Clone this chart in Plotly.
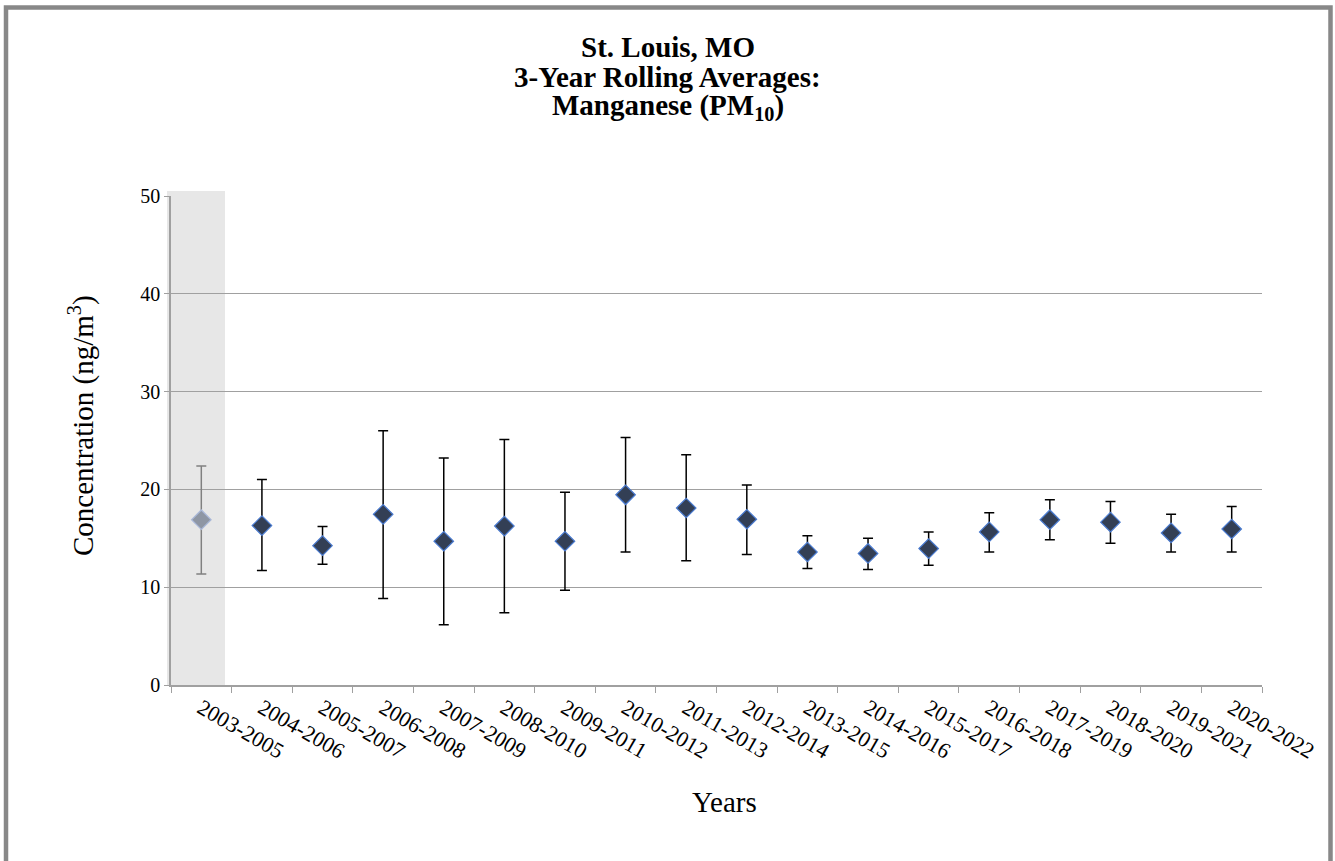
import plotly.graph_objects as go

categories = ["2003-2005", "2004-2006", "2005-2007", "2006-2008", "2007-2009", "2008-2010",
              "2009-2011", "2010-2012", "2011-2013", "2012-2014", "2013-2015", "2014-2016",
              "2015-2017", "2016-2018", "2017-2019", "2018-2020", "2019-2021", "2020-2022"]
means = [16.9, 16.3, 14.25, 17.45, 14.7, 16.25, 14.7, 19.45, 18.1, 16.95,
         13.6, 13.45, 13.95, 15.65, 16.9, 16.65, 15.55, 15.95]
upper = [22.4, 21.0, 16.2, 26.0, 23.2, 25.1, 19.7, 25.3, 23.55, 20.45,
         15.25, 15.0, 15.65, 17.6, 18.95, 18.75, 17.45, 18.25]
lower = [11.35, 11.7, 12.35, 8.85, 6.15, 7.4, 9.7, 13.6, 12.7, 13.35,
         11.9, 11.8, 12.25, 13.6, 14.85, 14.5, 13.6, 13.6]
title_lines = ["<b>St. Louis, MO</b>", "<b>3-Year Rolling Averages:</b>",
               "<b>Manganese (PM<sub>10</sub>)</b>"]

err_plus = [u - m for u, m in zip(upper, means)]
err_minus = [m - l for m, l in zip(means, lower)]

W, H = 1335, 861
ML, MR, MT, MB = 171, 73, 196, 176
PW, PH = W - ML - MR, H - MT - MB

FONT = "Liberation Serif, Times New Roman, serif"


def px_x(p):
    return (p - ML) / PW


def px_y(p):
    return (H - MB - p) / PH


fig = go.Figure()

# first (shaded) period
fig.add_trace(go.Scatter(
    x=categories[:1], y=means[:1], mode="markers",
    marker=dict(symbol="diamond", size=15, color="#8E96A4",
                line=dict(color="#A9B8D8", width=1.2)),
    error_y=dict(type="data", array=err_plus[:1], arrayminus=err_minus[:1],
                 color="#808080", thickness=1.5, width=5),
    showlegend=False))

fig.add_trace(go.Scatter(
    x=categories[1:], y=means[1:], mode="markers",
    marker=dict(symbol="diamond", size=15, color="#333F55",
                line=dict(color="#4A7BD0", width=1.2)),
    error_y=dict(type="data", array=err_plus[1:], arrayminus=err_minus[1:],
                 color="#000000", thickness=1.5, width=5),
    showlegend=False))

# shaded first-period band
fig.add_shape(type="rect", xref="paper", yref="paper",
              x0=px_x(167), x1=px_x(225), y0=0, y1=px_y(191),
              fillcolor="#E7E7E7", line=dict(width=0), layer="below")

# outer chart border
fig.add_shape(type="rect", xref="paper", yref="paper",
              x0=px_x(6), x1=px_x(1330.5), y0=px_y(7.5), y1=px_y(900),
              line=dict(color="#888888", width=4.5), fillcolor="rgba(0,0,0,0)")

annotations = []
for txt, yc in zip(title_lines, [47, 77, 107]):
    annotations.append(dict(text=txt, xref="paper", yref="paper",
                            x=px_x(667.5), y=px_y(yc), showarrow=False,
                            xanchor="center", yanchor="middle",
                            font=dict(family=FONT, size=29, color="black")))
annotations.append(dict(text="Concentration (ng/m<sup>3</sup>)", xref="paper", yref="paper",
                        x=px_x(81), y=px_y(426), textangle=-90, showarrow=False,
                        xanchor="center", yanchor="middle",
                        font=dict(family=FONT, size=29, color="black")))
annotations.append(dict(text="Years", xref="paper", yref="paper",
                        x=px_x(724), y=px_y(802), showarrow=False,
                        xanchor="center", yanchor="middle",
                        font=dict(family=FONT, size=29, color="black")))

fig.update_layout(
    width=W, height=H,
    margin=dict(l=ML, r=MR, t=MT, b=MB),
    paper_bgcolor="white", plot_bgcolor="white",
    font=dict(family=FONT, color="black"),
    xaxis=dict(type="category", range=[-0.5, 17.5], tickson="boundaries",
               ticks="outside", ticklen=6, tickcolor="#A0A0A0", tickwidth=1,
               showline=True, linecolor="#A0A0A0", linewidth=1.5,
               showgrid=False, tickangle=30,
               tickfont=dict(family=FONT, size=22, color="black")),
    yaxis=dict(range=[0, 50], tickvals=[0, 10, 20, 30, 40, 50],
               ticks="outside", ticklen=5, tickcolor="#A0A0A0",
               showline=True, linecolor="#A0A0A0", linewidth=1.5,
               showgrid=True, gridcolor="#A0A0A0", gridwidth=1,
               zeroline=False,
               tickfont=dict(family=FONT, size=20, color="black")),
    annotations=annotations,
)

fig.write_html("out.html", config={"displayModeBar": False},
               post_script="document.body.style.margin='0';document.body.style.overflow='hidden';")
